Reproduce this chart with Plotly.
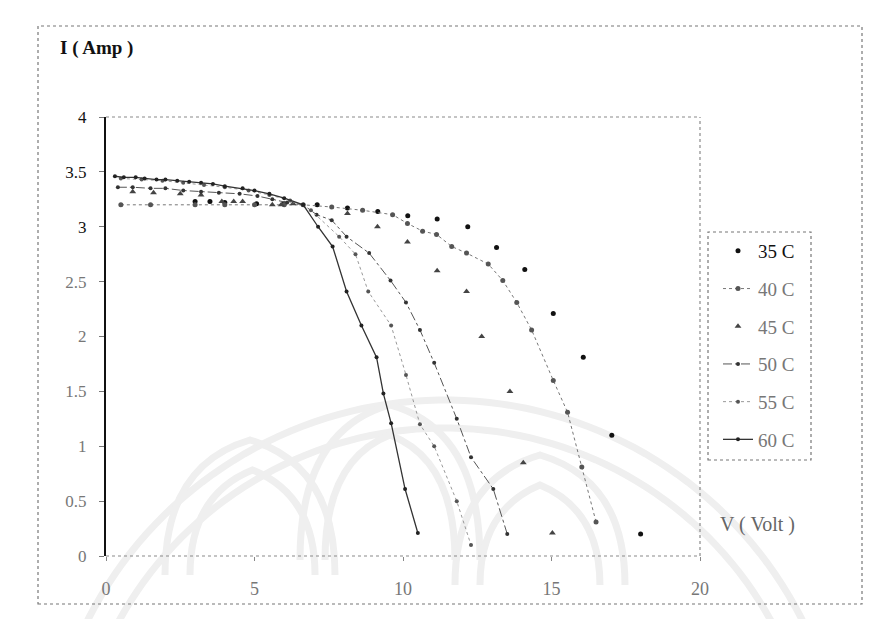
import numpy as np
import plotly.graph_objects as go

# I-V measurements of the panel at six cell temperatures (V in volts, I in amps)
v_35 = [3.0, 3.5, 4.0, 5.07, 6.0, 7.11, 8.13, 9.15, 10.16, 11.15, 12.18, 13.15, 14.1, 15.06, 16.07, 17.03, 18.0]
i_35 = [3.23, 3.23, 3.22, 3.21, 3.21, 3.20, 3.17, 3.14, 3.10, 3.07, 3.00, 2.81, 2.61, 2.21, 1.81, 1.10, 0.20]

v_40 = [0.5, 1.5, 3.0, 4.0, 5.0, 6.0, 6.64, 7.6, 8.64, 9.65, 10.15, 10.66, 11.13, 11.64, 12.14, 12.87, 13.36, 13.83, 14.33, 15.06, 15.54, 16.02, 16.5]
i_40 = [3.20, 3.20, 3.20, 3.20, 3.20, 3.20, 3.20, 3.18, 3.15, 3.11, 3.03, 2.96, 2.93, 2.82, 2.76, 2.66, 2.51, 2.31, 2.06, 1.60, 1.31, 0.81, 0.31]

v_45 = [0.9, 1.6, 2.5, 3.2, 3.9, 4.3, 4.6, 5.6, 5.9, 6.3, 8.13, 9.14, 10.15, 11.15, 12.14, 12.65, 13.6, 14.05, 15.03]
i_45 = [3.32, 3.31, 3.30, 3.29, 3.23, 3.23, 3.23, 3.20, 3.20, 3.21, 3.12, 3.00, 2.86, 2.60, 2.41, 2.00, 1.50, 0.85, 0.21]

v_50 = [0.4, 0.9, 1.5, 2.0, 2.6, 3.2, 3.8, 4.5, 5.1, 5.6, 6.1, 6.64, 7.09, 7.6, 8.1, 8.86, 9.58, 10.1, 10.57, 11.05, 11.81, 12.29, 13.04, 13.51]
i_50 = [3.36, 3.36, 3.35, 3.35, 3.33, 3.32, 3.31, 3.30, 3.28, 3.25, 3.22, 3.20, 3.11, 3.06, 2.91, 2.76, 2.51, 2.31, 2.06, 1.76, 1.25, 0.90, 0.61, 0.20]

v_55 = [0.5, 1.2, 1.9, 2.6, 3.3, 4.0, 4.8, 5.5, 6.2, 6.9, 7.85, 8.4, 8.83, 9.6, 10.1, 10.57, 11.05, 11.81, 12.29]
i_55 = [3.44, 3.43, 3.42, 3.40, 3.38, 3.36, 3.33, 3.29, 3.24, 3.15, 2.91, 2.75, 2.41, 2.10, 1.65, 1.20, 1.00, 0.50, 0.10]

v_60 = [0.3, 0.6, 1.0, 1.3, 1.7, 2.0, 2.4, 2.8, 3.2, 3.6, 4.0, 4.6, 5.0, 5.5, 6.0, 6.64, 7.14, 7.63, 8.1, 8.6, 9.11, 9.34, 9.6, 10.07, 10.5]
i_60 = [3.46, 3.45, 3.45, 3.44, 3.43, 3.43, 3.42, 3.41, 3.40, 3.39, 3.37, 3.35, 3.33, 3.30, 3.26, 3.20, 3.00, 2.82, 2.41, 2.10, 1.81, 1.48, 1.21, 0.61, 0.21]

x_ticks = [0, 5, 10, 15, 20]
y_ticks = [0, 0.5, 1, 1.5, 2, 2.5, 3, 3.5, 4]
y_tick_labels = ["0", "0.5", "1", "1.5", "2", "2.5", "3", "3.5", "4"]

SERIF = "Liberation Serif, Times New Roman, serif"
W, H = 881, 619
ML, MR, MT, MB = 106, 181, 117, 63
PW, PH = W - ML - MR, H - MT - MB


def px(x):
    return (x - ML) / PW


def py(y):
    return (H - MB - y) / PH


def tinted(text, color):
    return f"<span style='color:{color}'>{text}</span>"


# upper tick labels print darker than the lower ones
y_tick_text = [tinted(t, "#111111" if v >= 3 else "#777777") for t, v in zip(y_tick_labels, y_ticks)]

series = [
    ("35 C", "#111111", v_35, i_35, dict(mode="markers", marker=dict(symbol="circle", size=5, color="#111111"))),
    ("40 C", "#777777", v_40, i_40, dict(mode="lines+markers", marker=dict(symbol="circle", size=5, color="#555555"),
                                         line=dict(color="#777777", width=1, dash="dot"))),
    ("45 C", "#777777", v_45, i_45, dict(mode="markers", marker=dict(symbol="triangle-up", size=6, color="#444444"))),
    ("50 C", "#777777", v_50, i_50, dict(mode="lines+markers", marker=dict(symbol="circle", size=4, color="#333333"),
                                         line=dict(color="#555555", width=1, dash="dashdot"))),
    ("55 C", "#777777", v_55, i_55, dict(mode="lines+markers", marker=dict(symbol="circle", size=4, color="#555555"),
                                         line=dict(color="#999999", width=1, dash="dot"))),
    ("60 C", "#777777", v_60, i_60, dict(mode="lines+markers", marker=dict(symbol="circle", size=4, color="#222222"),
                                         line=dict(color="#333333", width=1.3))),
]

fig = go.Figure()
for name, text_color, vx, iy, style in series:
    fig.add_trace(go.Scatter(x=vx, y=iy, name=tinted(name, text_color), legendgroup=name, **style))

fig.update_layout(
    width=W, height=H,
    margin=dict(l=ML, r=MR, t=MT, b=MB),
    paper_bgcolor="white", plot_bgcolor="rgba(0,0,0,0)",
    font=dict(family=SERIF, size=18, color="#666666"),
    showlegend=True,
    legend=dict(
        x=px(718), y=py(232), xanchor="left", yanchor="top",
        bgcolor="rgba(0,0,0,0)", borderwidth=0,
        font=dict(family=SERIF, size=19, color="#666666"),
        tracegroupgap=10, itemwidth=30,
    ),
    xaxis=dict(
        range=[0, 20], tickvals=x_ticks, showgrid=False, zeroline=False,
        showline=False, ticks="outside", ticklen=4, tickcolor="#888888",
        ticklabelstandoff=12, tickfont=dict(family=SERIF, size=18, color="#777777"),
    ),
    yaxis=dict(
        range=[0, 4], tickvals=y_ticks, ticktext=y_tick_text, showgrid=False, zeroline=False,
        showline=True, linecolor="#111111", linewidth=2, ticks="outside", ticklen=5,
        tickcolor="#777777", ticklabelstandoff=9,
        tickfont=dict(family=SERIF, size=17, color="#555555"),
    ),
)

# faint emblem watermark printed on the page behind the chart
mark = dict(color="#efefef", width=7)
for cx, cy, r, a0, a1 in [(445, 800, 400, 198, 342), (445, 800, 372, 200, 340)]:
    ang = np.radians(np.linspace(a0, a1, 80))
    xs, ys = cx + r * np.cos(ang), cy + r * np.sin(ang)
    path = "M " + " L ".join(f"{px(a):.4f},{py(b):.4f}" for a, b in zip(xs, ys))
    fig.add_shape(type="path", xref="paper", yref="paper", path=path, line=mark, layer="below")
for left, right, top, base in [(165, 335, 440, 575), (190, 315, 470, 575),
                               (300, 480, 405, 560), (325, 455, 435, 560),
                               (455, 625, 455, 585), (480, 600, 485, 585)]:
    mid = (left + right) / 2
    path = (f"M {px(left):.4f},{py(base):.4f} Q {px(left):.4f},{py(top + 25):.4f} {px(mid):.4f},{py(top):.4f} "
            f"Q {px(right):.4f},{py(top + 25):.4f} {px(right):.4f},{py(base):.4f}")
    fig.add_shape(type="path", xref="paper", yref="paper", path=path, line=mark, layer="below")

dotted = dict(color="#8a8a8a", width=1.2, dash="dot")
# plot-area frame (top, right, bottom) and outer chart border
fig.add_shape(type="line", xref="paper", yref="paper", x0=0, x1=1, y0=1, y1=1, line=dotted)
fig.add_shape(type="line", xref="paper", yref="paper", x0=1, x1=1, y0=0, y1=1, line=dotted)
fig.add_shape(type="line", xref="paper", yref="paper", x0=0, x1=1, y0=0, y1=0, line=dotted)
fig.add_shape(type="rect", xref="paper", yref="paper", x0=px(38), x1=px(862), y0=py(604), y1=py(26),
              line=dict(color="#777777", width=1.2, dash="dot"))
# legend frame
fig.add_shape(type="rect", xref="paper", yref="paper", x0=px(708), x1=px(811), y0=py(460), y1=py(232),
              line=dict(color="#777777", width=1.2, dash="dot"))

fig.add_annotation(text="<b>I ( Amp )</b>", xref="paper", yref="paper", x=px(58), y=py(48),
                   xanchor="left", yanchor="middle", showarrow=False,
                   font=dict(family=SERIF, size=19, color="#111111"))
fig.add_annotation(text="V ( Volt )", xref="paper", yref="paper", x=px(718), y=py(524),
                   xanchor="left", yanchor="middle", showarrow=False,
                   font=dict(family=SERIF, size=20, color="#666666"))

fig.write_html("out.html")
